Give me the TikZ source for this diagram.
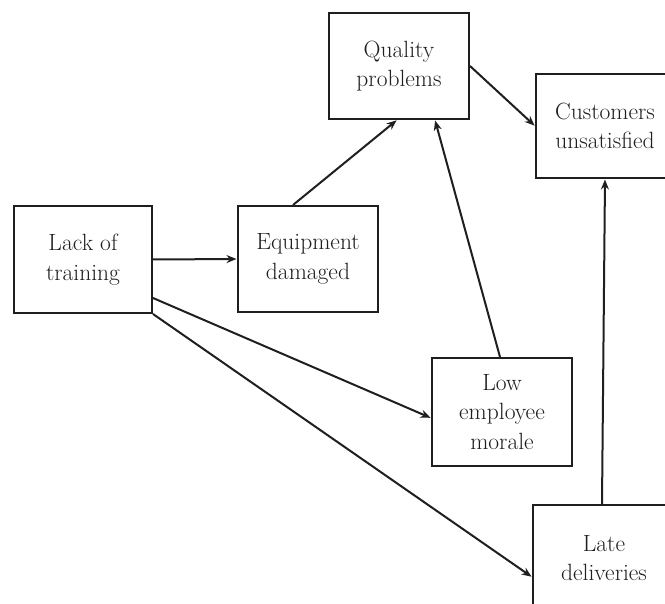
\documentclass[tikz,border=0pt]{standalone}
\usetikzlibrary{arrows.meta}
\begin{document}
\begin{tikzpicture}[x=1pt,y=-1pt,
  causebox/.style={draw=black!88, line width=2pt, fill=white, align=center,
    text=black!88, font=\fontsize{23.5}{29.5}\selectfont, inner sep=0pt},
  link/.style={draw=black!88, line width=2pt,
    -{Stealth[length=10pt,width=8pt]}, shorten >=0.5pt}]
\path[use as bounding box, clip] (0,0) rectangle (665,604);
\fill[white] (0,0) rectangle (665,604);

\node[causebox, minimum width=140pt, minimum height=106pt] (qp)    at (399,66)  {Quality\\problems};
\node[causebox, minimum width=138pt, minimum height=104pt] (cu)    at (605,126) {Customers\\unsatisfied};
\node[causebox, minimum width=138pt, minimum height=107pt] (lack)  at (83,259.5) {Lack of\\training};
\node[causebox, minimum width=140pt, minimum height=106pt] (equip) at (308,259) {Equipment\\damaged};
\node[causebox, minimum width=140pt, minimum height=108pt] (lem)   at (502,412) {Low\\employee\\morale};
\node[causebox, minimum width=142pt, minimum height=106pt] (late)  at (604,558) {Late\\deliveries};

\draw[link] (qp.east) -- (cu.west);
\draw[link] (lack.east) -- (equip.west);
\draw[link] ([xshift=-15pt]equip.north) -- ([xshift=-2pt]qp.south);
\draw[link] ([xshift=-2pt]lem.north) -- ([xshift=36pt]qp.south);
\draw[link] ([yshift=-38.5pt]lack.east) -- ([yshift=-6pt]lem.west);
\draw[link] (lack.south east) -- ([yshift=-19pt]late.west);
\draw[link] ([xshift=-2pt]late.north) -- (cu.south);
\end{tikzpicture}
\end{document}
